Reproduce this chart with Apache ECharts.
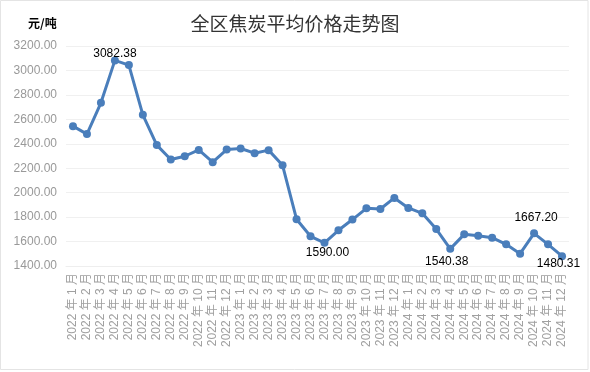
<!DOCTYPE html>
<html>
<head>
<meta charset="utf-8">
<script src="https://cdn.jsdelivr.net/npm/echarts@6/dist/echarts.min.js"></script>
<style>
html,body{margin:0;padding:0;background:#fff;}
#chart{width:590px;height:372px;}
</style>
</head>
<body>
<div id="chart"></div>
<script>
var categories = [
  "2022年1月","2022年2月","2022年3月","2022年4月","2022年5月","2022年6月",
  "2022年7月","2022年8月","2022年9月","2022年10月","2022年11月","2022年12月",
  "2023年1月","2023年2月","2023年3月","2023年4月","2023年5月","2023年6月",
  "2023年7月","2023年8月","2023年9月","2023年10月","2023年11月","2023年12月",
  "2024年1月","2024年2月","2024年3月","2024年4月","2024年5月","2024年6月",
  "2024年7月","2024年8月","2024年9月","2024年10月","2024年11月","2024年12月"
];
var prices = [
  2544, 2479, 2735, 3082.38, 3044, 2637,
  2389, 2271, 2298, 2350, 2249, 2353,
  2361, 2323, 2348, 2224, 1783, 1643,
  1590.00, 1692, 1780, 1872, 1866, 1957,
  1875, 1831, 1702, 1540.38, 1659, 1648,
  1632, 1577, 1501, 1667.20, 1577, 1480.31
];
var yTicks = [1400, 1600, 1800, 2000, 2200, 2400, 2600, 2800, 3000, 3200];
var labelledIdx = [3, 18, 27, 33, 35];

var labelOffsets = {
  3: [0, -7],
  18: [3, 9.5],
  27: [-3.5, 13],
  33: [2, -16],
  35: [-3.5, 8]
};

var seriesData = prices.map(function (v, i) {
  if (labelledIdx.indexOf(i) >= 0) {
    return {
      value: v,
      label: {
        show: true,
        position: 'inside',
        offset: labelOffsets[i],
        formatter: function (p) { return Number(p.value).toFixed(2); },
        color: '#000',
        fontSize: 12,
        fontFamily: 'Liberation Sans, Arial, sans-serif'
      }
    };
  }
  return v;
});

var chart = echarts.init(document.getElementById('chart'), null, {renderer: 'canvas'});
chart.setOption({
  backgroundColor: '#fff',
  animation: false,
  title: {
    text: '全区焦炭平均价格走势图',
    left: 'center',
    top: 9,
    textStyle: {
      fontSize: 19,
      fontWeight: 'normal',
      color: '#333',
      fontFamily: 'Noto Sans CJK SC, sans-serif'
    }
  },
  graphic: [{
    type: 'rect',
    shape: {x: 0.5, y: 0.5, width: 587.5, height: 369},
    style: {fill: 'none', stroke: '#e4e4e4', lineWidth: 1},
    silent: true,
    z: -1
  }, {
    type: 'text',
    left: 28,
    top: 17,
    style: {
      text: '元/吨',
      fontSize: 12,
      fontWeight: 'bold',
      fill: '#000',
      fontFamily: 'Noto Sans CJK SC, sans-serif'
    }
  }],
  grid: {left: 66, right: 21, top: 46, bottom: 106, containLabel: false},
  xAxis: {
    type: 'category',
    data: categories,
    boundaryGap: true,
    axisLine: {show: true, lineStyle: {color: '#eeeeee'}},
    axisTick: {show: false},
    axisLabel: {
      interval: 0,
      rotate: 90,
      margin: 7,
      color: '#a0a0a0',
      fontSize: 12,
      fontFamily: 'Liberation Sans, Noto Sans CJK SC, sans-serif',
      formatter: function (v) { return v.replace('年', ' 年 ').replace('月', ' 月'); }
    }
  },
  yAxis: {
    type: 'value',
    min: yTicks[0],
    max: yTicks[yTicks.length - 1],
    interval: 200,
    axisLine: {show: false},
    axisTick: {show: false},
    splitLine: {lineStyle: {color: '#f0f0f0'}},
    axisLabel: {
      margin: 9,
      color: '#999',
      fontSize: 12,
      fontFamily: 'Liberation Sans, Arial, sans-serif',
      formatter: function (v) { return v.toFixed(2); }
    }
  },
  series: [{
    type: 'line',
    data: seriesData,
    symbol: 'circle',
    symbolSize: 8,
    lineStyle: {color: '#4A7EBB', width: 3},
    itemStyle: {color: '#4A7EBB'},
    label: {show: false}
  }]
});
</script>
</body>
</html>
